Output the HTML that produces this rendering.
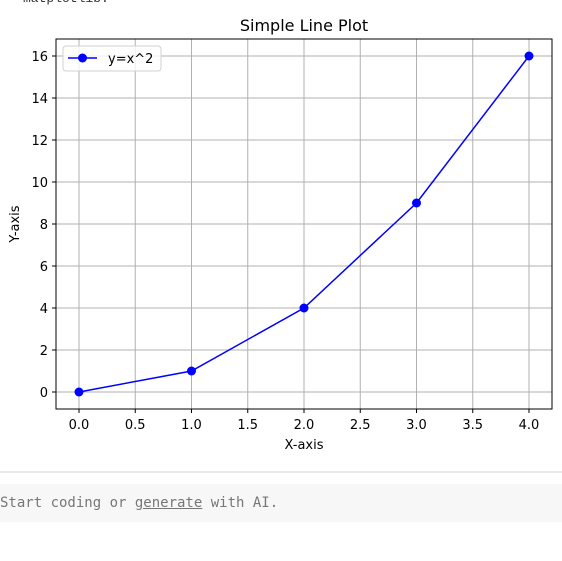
<!DOCTYPE html>
<html><head><meta charset="utf-8"><style>
body{margin:0;width:562px;height:561px;background:#fff;overflow:hidden;position:relative;font-family:"DejaVu Sans","Liberation Sans",sans-serif}
#top{position:absolute;left:23px;top:-9px;font:13px "Liberation Mono",monospace;color:#333}
#sep{position:absolute;left:0;top:471px;width:562px;height:2px;background:#e8e8e8}
#cell{position:absolute;left:0;top:484px;width:562px;height:38px;background:#f7f7f7;font:14px "DejaVu Sans Mono","Liberation Mono",monospace;color:#777;line-height:39px}
</style></head><body>
<div id="top">matplotlib.</div>
<svg id="chart" width="562" height="470" style="position:absolute;left:0;top:0" font-family="DejaVu Sans, Liberation Sans, sans-serif"></svg>
<div id="sep"></div>
<div id="cell">Start coding or <span style="text-decoration:underline">generate</span> with AI.</div>
<script>
const xs=[0,1,2,3,4];
const ys=[0,1,4,9,16];
const xTicks=[0,0.5,1,1.5,2,2.5,3,3.5,4];
const xTickLabels=["0.0","0.5","1.0","1.5","2.0","2.5","3.0","3.5","4.0"];
const yTicks=[0,2,4,6,8,10,12,14,16];
const NS="http://www.w3.org/2000/svg";
const svg=document.getElementById('chart');
const L=56,R=552,T=39,B=409;
const X=v=>79+v*112.5, Y=v=>392-v*21;
function mk(t,a,p){const e=document.createElementNS(NS,t);for(const k in a)e.setAttribute(k,a[k]);(p||svg).appendChild(e);return e;}
xTicks.forEach((v,i)=>{
 const g=mk('line',{x1:X(v),x2:X(v),y1:T,y2:B,stroke:'#b0b0b0','stroke-width':1});
 
 
 mk('line',{x1:X(v),x2:X(v),y1:B,y2:B+4,stroke:'#000'});
 const t=mk('text',{x:X(v),y:B+20,'text-anchor':'middle','font-size':13});
 t.textContent=xTickLabels[i];
 
 
});
yTicks.forEach(v=>{
 const g=mk('line',{x1:L,x2:R,y1:Y(v),y2:Y(v),stroke:'#b0b0b0','stroke-width':1});
 
 
 mk('line',{x1:L-4,x2:L,y1:Y(v),y2:Y(v),stroke:'#000'});
 const t=mk('text',{x:L-8,y:Y(v)+5,'text-anchor':'end','font-size':13});
 t.textContent=v;
 
 
});
const f=mk('rect',{x:L,y:T,width:R-L,height:B-T,fill:'none',stroke:'#000','stroke-width':1});


const ln=mk('polyline',{points:xs.map((x,i)=>X(x)+','+Y(ys[i])).join(' '),fill:'none',stroke:'#0000ff','stroke-width':1.5});


xs.forEach((x,i)=>{
 const c=mk('circle',{cx:X(x),cy:Y(ys[i]),r:4.5,fill:'#0000ff'});
 
 
});
const tt=mk('text',{x:(L+R)/2,y:31,'text-anchor':'middle','font-size':16});
tt.textContent='Simple Line Plot';


const xl=mk('text',{x:(L+R)/2,y:449,'text-anchor':'middle','font-size':13});
xl.textContent='X-axis';


const yl=mk('text',{x:19,y:224,'text-anchor':'middle','font-size':13,transform:'rotate(-90 19 224)'});
yl.textContent='Y-axis';


const lg=mk('g',{});


mk('rect',{x:63,y:46,width:98,height:25,rx:3,fill:'#fff','fill-opacity':0.8,stroke:'#d0d0d0'},lg);
mk('line',{x1:68,x2:97,y1:58,y2:58,stroke:'#0000ff','stroke-width':1.5},lg);
mk('circle',{cx:82.5,cy:58,r:4.5,fill:'#0000ff'},lg);
const lt=mk('text',{x:108,y:63,'font-size':13},lg);
lt.textContent='y=x^2';


</script>
</body></html>
